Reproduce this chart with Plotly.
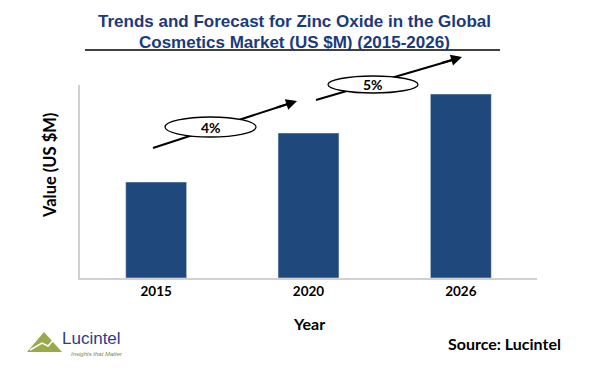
import plotly.graph_objects as go

years = ["2015", "2020", "2026"]
values = [96, 145, 184]
cagr_labels = ["4%", "5%"]

W, H = 589, 381
L, R, T, B = 80, 537, 85, 278

def px(x):
    return (x - L) / (R - L)

def py(y):
    return (B - y) / (B - T)

fig = go.Figure(go.Bar(x=years, y=values, marker_color="#1F497D", width=0.4))

shapes = []
annotations = []

# title lines
for txt, yy in [("Trends and Forecast for Zinc Oxide in the Global", 22),
                ("Cosmetics Market (US $M) (2015-2026)", 42)]:
    annotations.append(dict(xref="paper", yref="paper", x=px(294), y=py(yy), xanchor="center", yanchor="middle",
                            showarrow=False, text=f"<b>{txt}</b>",
                            font=dict(family="Liberation Sans", size=17, color="#1A3A7E")))
# title underline
shapes.append(dict(type="line", xref="paper", yref="paper", x0=px(85), x1=px(500), y0=py(50), y1=py(50),
                   line=dict(color="black", width=1.5)))

arrows = [((153, 148), (297, 101)), ((316, 100), (462, 57))]
ellipses = [(165, 117, 256, 137), (328, 76, 418, 93)]
for (s, e), (ex0, ey0, ex1, ey1), lab in zip(arrows, ellipses, cagr_labels):
    shapes.append(dict(type="line", xref="paper", yref="paper", x0=px(s[0]), y0=py(s[1]), x1=px(e[0] - 6), y1=py(e[1] + 2),
                       line=dict(color="black", width=2)))
    shapes.append(dict(type="circle", xref="paper", yref="paper", x0=px(ex0), x1=px(ex1), y0=py(ey1), y1=py(ey0),
                       fillcolor="white", line=dict(color="black", width=1.3)))
    dx, dy = e[0] - s[0], e[1] - s[1]
    annotations.append(dict(xref="paper", yref="paper", x=px(e[0]), y=py(e[1]), ax=-dx * 0.15, ay=-dy * 0.15,
                            axref="pixel", ayref="pixel", showarrow=True, arrowhead=2, arrowsize=1.1,
                            arrowwidth=2, arrowcolor="black", text="", standoff=0))
    annotations.append(dict(xref="paper", yref="paper", x=px((ex0 + ex1) / 2), y=py((ey0 + ey1) / 2),
                            xanchor="center", yanchor="middle",
                            text="<b>" + lab + "</b>", showarrow=False,
                            font=dict(family="Lato", size=14, color="black")))

# axis titles
annotations += [
    dict(xref="paper", yref="paper", x=px(309), y=py(323), xanchor="center", yanchor="middle", showarrow=False,
         text="<b>Year</b>", font=dict(family="Lato", size=16, color="black")),
    dict(xref="paper", yref="paper", x=px(50), y=py(166), xanchor="center", yanchor="middle", showarrow=False,
         textangle=-90, text="<b>Value (US $M)</b>", font=dict(family="Lato", size=16.5, color="black")),
]

# logo
shapes.append(dict(type="path", xref="paper", yref="paper",
                   path=f"M {px(27)} {py(352)} L {px(44)} {py(332)} L {px(62)} {py(352)} Z",
                   fillcolor="#9AAA4A", line=dict(width=0)))
shapes.append(dict(type="path", xref="paper", yref="paper",
                   path=f"M {px(30)} {py(350)} L {px(42)} {py(343)} L {px(48)} {py(346)} L {px(60)} {py(333)}",
                   line=dict(color="white", width=1.5)))
annotations += [
    dict(xref="paper", yref="paper", x=px(60), y=py(338), xanchor="left", yanchor="middle", showarrow=False,
         text="Lucintel", font=dict(family="Liberation Sans", size=17, color="#2E3A87")),
    dict(xref="paper", yref="paper", x=px(69), y=py(354), xanchor="left", yanchor="middle", showarrow=False,
         text="<i>Insights that Matter</i>", font=dict(family="Liberation Sans", size=6, color="#7A8A30")),
    dict(xref="paper", yref="paper", x=px(563), y=py(343), xanchor="right", yanchor="middle", showarrow=False,
         text="<b>Source: Lucintel</b>", font=dict(family="Lato", size=16, color="black")),
]

fig.update_layout(
    width=W, height=H,
    margin=dict(l=L, r=W - R, t=T, b=H - B, autoexpand=False),
    paper_bgcolor="white", plot_bgcolor="white",
    showlegend=False,
    shapes=shapes,
    annotations=annotations,
    bargap=0.6,
    xaxis=dict(showline=True, linecolor="#D0D0D0", linewidth=1.5, ticks="", automargin=False,
               tickfont=dict(family="Lato", size=13.5, color="black", weight="bold")),
    yaxis=dict(showline=True, linecolor="#D0D0D0", linewidth=1.5, showgrid=False, showticklabels=False,
               zeroline=False, range=[0, 193], ticks="", automargin=False),
)

fig.write_html("out.html", config={"displayModeBar": False},
               post_script="document.body.style.margin='0';document.body.style.padding='0';")
